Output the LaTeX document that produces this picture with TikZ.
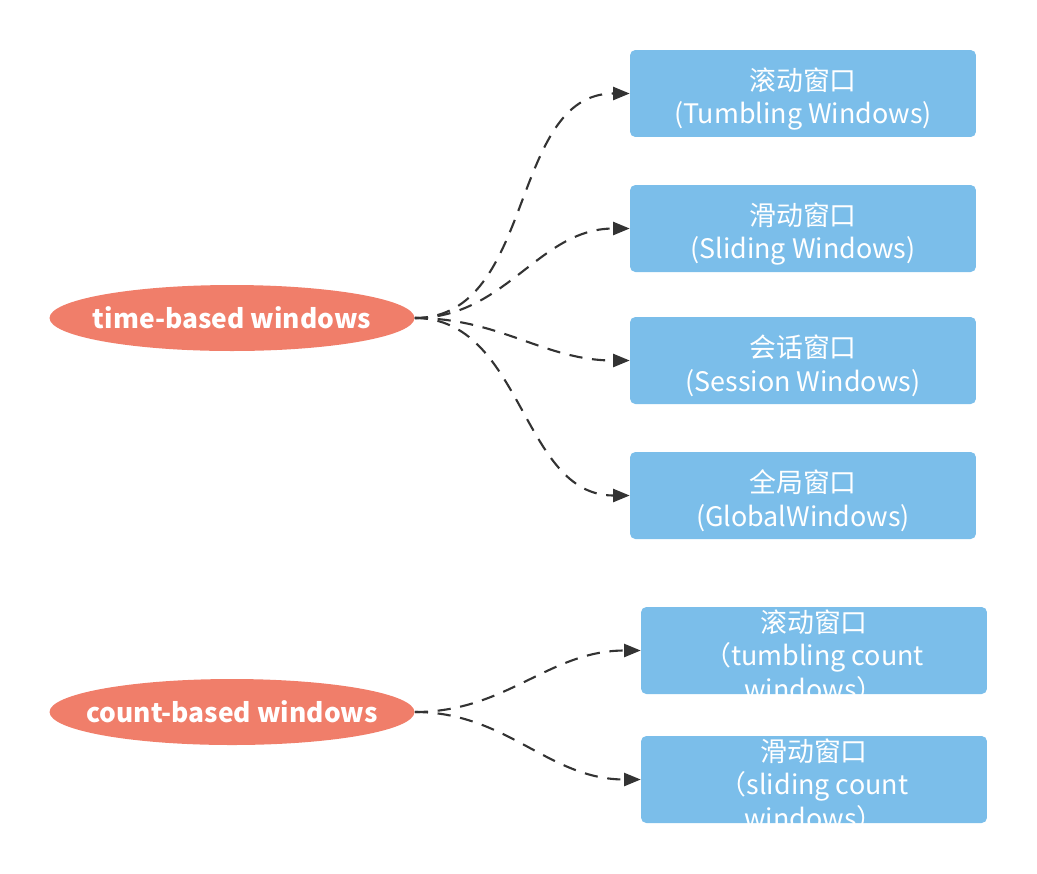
\documentclass[tikz,border=0pt]{standalone}
\usepackage{fontspec}
\setmainfont{Noto Sans CJK SC}
\usetikzlibrary{shapes.geometric, arrows.meta, positioning}

\definecolor{salmon}{HTML}{F07E6A}
\definecolor{skyblue}{HTML}{7BBEEA}
\definecolor{darkline}{HTML}{333333}

\begin{document}
\begin{tikzpicture}[
    x=0.02cm, y=-0.02cm,
    category/.style={ellipse, fill=salmon, minimum width=7.3cm, minimum height=1.32cm, inner sep=0pt,
        label={[text=white, font=\fontsize{15}{18}\selectfont\bfseries]center:#1}},
    window/.style={rectangle, rounded corners=3pt, fill=skyblue, minimum width=6.92cm, minimum height=1.74cm, inner sep=0pt,
        label={[text=white, align=center, yshift=-3pt, font=\fontsize{15.3}{19}\selectfont]center:#1}},
    arrow/.style={darkline, line width=1.2pt, dash pattern=on 7.5pt off 5.5pt, -{Triangle[length=9.5pt, width=7.5pt]}, out=0, in=180}
]
    \useasboundingbox (0,0) rectangle (1037,873);

    % Window types
    \node (time) [category={time-based windows}] at (232,318) {};
    \node (count) [category={count-based windows}] at (232,712) {};

    % Time windows
    \node (tumbling) [window={滚动窗口\\(Tumbling Windows)}] at (803,93.5) {};
    \node (sliding) [window={滑动窗口\\(Sliding Windows)}] at (803,228.5) {};
    \node (session) [window={会话窗口\\(Session Windows)}] at (803,360.5) {};
    \node (global) [window={全局窗口\\(GlobalWindows)}] at (803,495.5) {};

    % Count windows
    \node (tumblingcount) [window={滚动窗口\\（tumbling count\\windows）}] at (814,650.5) {};
    \node (slidingcount) [window={滑动窗口\\（sliding count\\windows）}] at (814,779.5) {};

    % Connections - time
    \draw [arrow] (time.east) to (tumbling.west);
    \draw [arrow] (time.east) to (sliding.west);
    \draw [arrow] (time.east) to (session.west);
    \draw [arrow] (time.east) to (global.west);

    % Connections - count
    \draw [arrow] (count.east) to (tumblingcount.west);
    \draw [arrow] (count.east) to (slidingcount.west);
\end{tikzpicture}
\end{document}
